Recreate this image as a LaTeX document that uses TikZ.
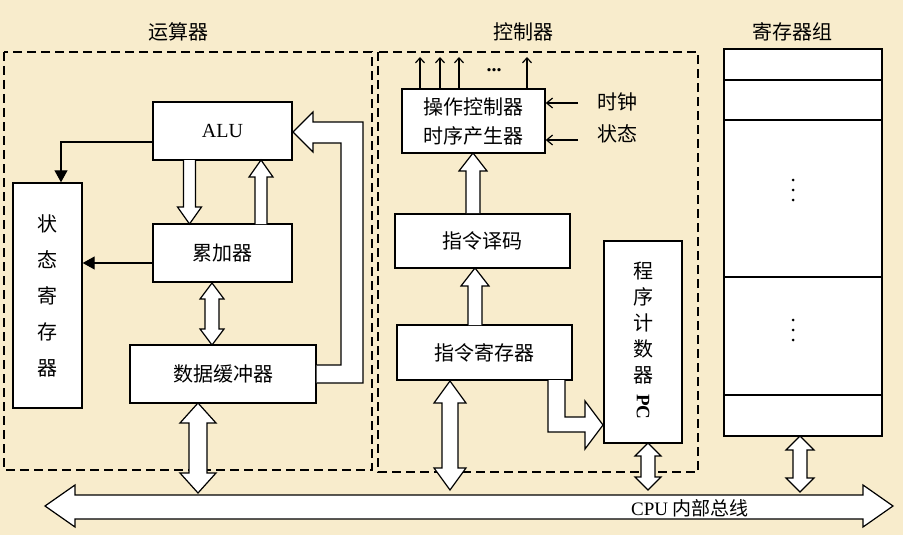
\documentclass[tikz,border=0pt]{standalone}
\usepackage{fontspec}
\setmainfont{Liberation Serif}
\newfontfamily\cjk{Noto Sans CJK SC}
\usetikzlibrary{arrows.meta}
\definecolor{bg}{HTML}{F8ECCC}
% hollow double arrow, vertical: x, top y, bottom y, half shaft, half head, head length
\newcommand\hdbl[6]{\draw[fill=white,line width=1.2pt] (#1-#4,#2+#6)--(#1-#5,#2+#6)--(#1,#2)--(#1+#5,#2+#6)--(#1+#4,#2+#6)--(#1+#4,#3-#6)--(#1+#5,#3-#6)--(#1,#3)--(#1-#5,#3-#6)--(#1-#4,#3-#6)--cycle;}
% hollow single arrow, vertical: x, from y, to y (tip), half shaft, half head, head length (sign handled by caller)
\newcommand\hsgl[6]{\draw[fill=white,line width=1.2pt] (#1-#4,#2)--(#1-#4,#3+#6)--(#1-#5,#3+#6)--(#1,#3)--(#1+#5,#3+#6)--(#1+#4,#3+#6)--(#1+#4,#2);}
\begin{document}
\begin{tikzpicture}[x=1pt,y=-1pt,
  blk/.style={draw,line width=1.4pt,fill=white,inner sep=0pt,font=\cjk\fontsize{20}{24}\selectfont},
  grp/.style={draw,line width=1.4pt,dash pattern=on 9pt off 5pt},
  ttl/.style={font=\cjk\fontsize{20}{24}\selectfont},
  thin/.style={line width=1.2pt}]
\fill[bg] (0,0) rectangle (903,535);
\useasboundingbox (0,0) rectangle (903,535);

% groups
\draw[grp] (4,52) rectangle (372,470);
\draw[grp] (378,52) rectangle (698,472);
\node[ttl] (tcalc) at (178,32) {运算器};
\node[ttl] (tctrl) at (523,32) {控制器};
\node[ttl] (treg) at (792,32) {寄存器组};

% bus
\draw[fill=white,line width=1.2pt] (45,506)--(75,485)--(75,495)--(863,495)--(863,485)--(893,506)--(863,527)--(863,519)--(75,519)--(75,527)--cycle;
\node[font=\fontsize{19}{22}\selectfont] (bus) at (690,508) {CPU {\cjk 内部总线}};

% ALU part
\node[blk,minimum width=139pt,minimum height=58pt,font=\fontsize{20}{22}\selectfont] (alu) at (222.5,131) {ALU};
\node[blk,minimum width=69pt,minimum height=225pt,align=center,font=\cjk\fontsize{20}{36}\selectfont] (psw) at (47.5,295.5) {状\\态\\寄\\存\\器};
\node[blk,minimum width=139pt,minimum height=58pt] (acc) at (222.5,253) {累加器};
\node[blk,minimum width=186pt,minimum height=58pt] (dbuf) at (223,374) {数据缓冲器};
\draw[thin,-{Triangle[length=12pt,width=13pt]}] (alu.west|-0,142) -| (psw.north-|61,0);
\draw[thin,-{Triangle[length=12pt,width=13pt]}] (acc.west|-0,263) -- (psw.east|-0,263);
\hsgl{189.5}{160}{224}{6}{12}{-17}
\hsgl{261}{224}{160}{6}{12}{17}
\hdbl{212}{283}{345}{7}{12}{16}
\hdbl{198}{403}{493}{9}{18}{20}
\draw[fill=white,line width=1.2pt] (dbuf.east|-0,383)--(363,383)--(363,122)--(313,122)--(313,112)--(293,132)--(313,152)--(313,143)--(341,143)--(341,365)--(dbuf.east|-0,365);

% controller
\node[blk,minimum width=143pt,minimum height=64pt,align=center,font=\cjk\fontsize{20}{29}\selectfont] (ocu) at (473.5,121) {操作控制器\\时序产生器};
\foreach \x in {420,440,459,527}
  \draw[thin,-{Straight Barb[length=5pt,width=9pt]}] (\x,89) -- (\x,57);
\node[font=\bfseries\fontsize{20}{20}\selectfont] (dots) at (494,70) {...};
\node[ttl] (clk) at (617,102) {时钟};
\node[ttl] (sts) at (617,134) {状态};
\draw[thin,-{Straight Barb[length=6pt,width=10pt]}] (578,103) -- (ocu.east|-0,103);
\draw[thin,-{Straight Barb[length=6pt,width=10pt]}] (578,140) -- (ocu.east|-0,140);
\node[blk,minimum width=175pt,minimum height=54pt] (dec) at (482.5,241) {指令译码};
\node[blk,minimum width=175pt,minimum height=55pt] (ir) at (484.5,352.5) {指令寄存器};
\node[blk,minimum width=78pt,minimum height=202pt] (pc) at (643,342) {};
\node[ttl,align=center,font=\cjk\fontsize{20}{26}\selectfont] (pct) at (643,323) {程\\序\\计\\数\\器};
\node[rotate=-90,font=\bfseries\fontsize{19}{20}\selectfont] (pcpc) at (643,407) {PC};
\hsgl{473}{213}{153}{7}{14}{18}
\hsgl{475}{325}{268}{7}{14}{18}
\hdbl{450}{381}{490}{8}{16}{22}
\draw[fill=white,line width=1.2pt] (548,380)--(548,432)--(585,432)--(585,449)--(603,425)--(585,401)--(585,417)--(565,417)--(565,380);
\hdbl{648}{443}{490}{7}{13}{13}

% register group
\draw[line width=1.4pt,fill=white] (724,49) rectangle (882,436);
\foreach \y in {80,120,277,395} \draw[thin] (724,\y) -- (882,\y);
\foreach \y in {180,190,200,320,330,340} \fill (793,\y) circle (1.5pt);
\hdbl{800}{436}{492}{7}{14}{14}
\end{tikzpicture}
\end{document}
